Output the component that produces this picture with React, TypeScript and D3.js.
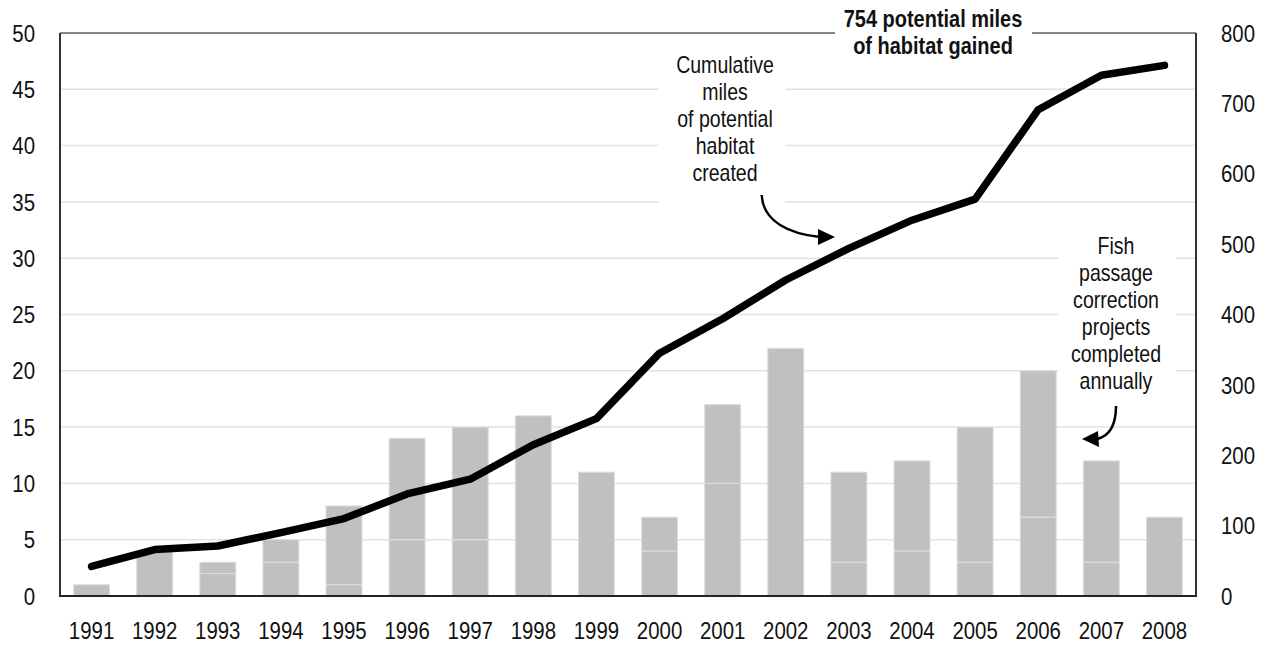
import React from "react";
import * as d3 from "d3";

const years = ["1991","1992","1993","1994","1995","1996","1997","1998","1999","2000","2001","2002","2003","2004","2005","2006","2007","2008"];
// Projects completed annually (two stacked groups, same colour)
const projectsLower = [0, 0, 2, 3, 1, 5, 5, 0, 0, 4, 10, 0, 3, 4, 3, 7, 3, 0];
const projectsUpper = [1, 4, 1, 2, 7, 9, 10, 16, 11, 3, 7, 22, 8, 8, 12, 13, 9, 7];
// Cumulative miles of potential habitat (right axis)
const cumulativeMiles = [42, 66, 71, 90, 110, 145, 166, 215, 252, 345, 394, 449, 494, 534, 564, 691, 740, 754];
const leftTicks = [0, 5, 10, 15, 20, 25, 30, 35, 40, 45, 50];
const rightTicks = [0, 100, 200, 300, 400, 500, 600, 700, 800];
const cumulativeNote = ["Cumulative", "miles", "of potential", "habitat", "created"];
const projectsNote = ["Fish", "passage", "correction", "projects", "completed", "annually"];
const totalNote = ["754 potential miles", "of habitat gained"];

const W = 1267, H = 646;
const L = 60, R = 1196, T = 33, B = 596;
const FONT = "'Liberation Sans', Arial, sans-serif";
const SX = 0.85;

function NText(props: { x: number; y: number; anchor?: string; size: number; bold?: boolean; dy?: string; children: any }) {
  return (
    <text
      transform={`translate(${props.x},${props.y}) scale(${SX},1)`}
      dy={props.dy}
      textAnchor={props.anchor || "middle"}
      fontFamily={FONT}
      fontSize={props.size}
      fontWeight={props.bold ? "bold" : "normal"}
      fill="#111"
    >
      {props.children}
    </text>
  );
}

export default function App() {
  const x = d3.scaleBand<string>().domain(years).range([L, R]).paddingInner(0.43).paddingOuter(0.215);
  const yL = d3.scaleLinear().domain([0, 50]).range([B, T]);
  const yR = d3.scaleLinear().domain([0, 800]).range([B, T]);
  const cx = (d: string) => (x(d) as number) + x.bandwidth() / 2;

  const line = d3.line<number>()
    .x((_, i) => cx(years[i]))
    .y((v) => yR(v));

  const stackData = years.map((yr, i) => ({ yr, lower: projectsLower[i], upper: projectsUpper[i] }));
  const stacked = d3.stack<any>().keys(["lower", "upper"])(stackData);

  return (
    <svg width={W} height={H} style={{ position: "absolute", left: 0, top: 0, display: "block", background: "#fff" }}>
      {/* gridlines */}
      {leftTicks.filter((t) => t > 0 && t < 50).map((t) => (
        <line key={"g" + t} x1={L} x2={R} y1={yL(t)} y2={yL(t)} stroke="#e2e2e2" strokeWidth={1.5} />
      ))}
      {/* annotation backgrounds */}
      <rect x={659} y={48} width={126} height={165} fill="#fff" />
      <rect x={1058} y={226} width={118} height={162} fill="#fff" />
      {/* bars */}
      {stacked.map((layer) =>
        layer.map((seg, i) => {
          const h = yL(seg[0]) - yL(seg[1]);
          if (h <= 0) return null;
          return (
            <rect key={layer.key + i} x={x(years[i])} y={yL(seg[1])} width={x.bandwidth()} height={h}
              fill="#c0c0c0" stroke="#dedede" strokeWidth={1} />
          );
        })
      )}
      {/* cumulative line */}
      <path d={line(cumulativeMiles) || ""} fill="none" stroke="#000" strokeWidth={7.5} strokeLinejoin="round" strokeLinecap="round" />
      {/* frame */}
      <line x1={L} x2={R} y1={T} y2={T} stroke="#858585" strokeWidth={2} />
      <line x1={L} x2={L} y1={T} y2={B} stroke="#333" strokeWidth={2} />
      <line x1={R} x2={R} y1={T} y2={B} stroke="#333" strokeWidth={2} />
      <line x1={L - 1} x2={R + 1} y1={B} y2={B} stroke="#222" strokeWidth={2} />
      {/* left ticks */}
      {leftTicks.map((t) => (
        <NText key={"l" + t} x={35} y={yL(t)} dy="0.36em" anchor="end" size={24}>{t}</NText>
      ))}
      {rightTicks.map((t) => (
        <NText key={"r" + t} x={1221} y={yR(t)} dy="0.36em" anchor="start" size={24}>{t}</NText>
      ))}
      {years.map((yr) => (
        <NText key={"x" + yr} x={cx(yr)} y={639} size={24}>{yr}</NText>
      ))}
      {/* total note */}
      <rect x={835} y={0} width={197} height={60} fill="#fff" />
      {totalNote.map((s, i) => (
        <NText key={"t" + i} x={933} y={27 + i * 27} bold size={23.5}>{s}</NText>
      ))}
      {cumulativeNote.map((s, i) => (
        <NText key={"c" + i} x={725} y={73 + i * 27} size={23}>{s}</NText>
      ))}
      {projectsNote.map((s, i) => (
        <NText key={"p" + i} x={1116} y={254 + i * 27} size={23}>{s}</NText>
      ))}
      {/* arrows */}
      <path d="M761.7,195 C763,222 790,234 820,237" fill="none" stroke="#000" strokeWidth={2.5} />
      <polygon points="835,237 818,229 818,245" fill="#000" />
      <path d="M1116,406 C1116,425 1110,436 1097,439" fill="none" stroke="#000" strokeWidth={2.5} />
      <polygon points="1082,439 1098,431 1099,447" fill="#000" />
    </svg>
  );
}
